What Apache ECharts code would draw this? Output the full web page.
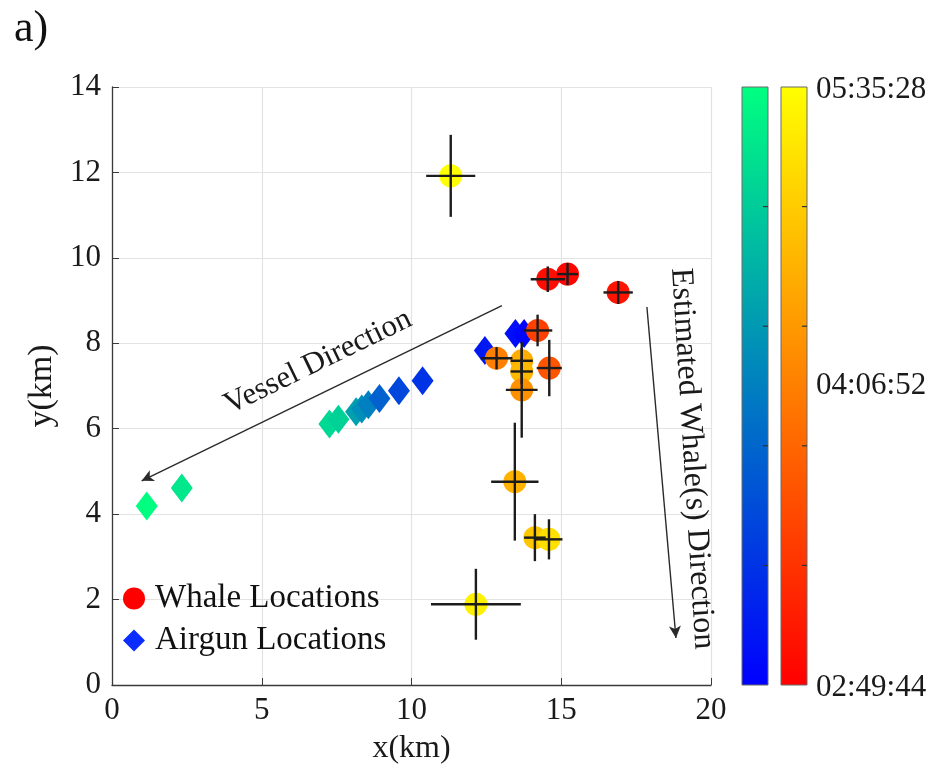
<!DOCTYPE html>
<html>
<head>
<meta charset="utf-8">
<title>Whale and airgun locations</title>
<script src="https://cdn.jsdelivr.net/npm/echarts@6/dist/echarts.min.js"></script>
<style>
  html, body { margin: 0; padding: 0; background: #ffffff; }
  #chart { width: 934px; height: 778px; }
</style>
</head>
<body>
<div id="chart"></div>
<script>
// ---- Whale localisations: position (km), error half-widths (km), detection time ----
const whaleX    = [14.55, 15.21, 16.90, 14.21, 12.84, 14.60, 13.68, 13.68, 13.68, 13.45, 14.12, 14.59, 12.15, 11.31];
const whaleY    = [ 9.50,  9.62,  9.19,  8.30,  7.65,  7.42,  7.59,  7.34,  6.91,  4.76,  3.45,  3.41,  1.89, 11.92];
const whaleXErr = [ 0.57,  0.35,  0.49,  0.49,  0.53,  0.42,  0.37,  0.37,  0.53,  0.79,  0.36,  0.45,  1.50,  0.82];
const whaleYErr = [ 0.30,  0.26,  0.27,  0.37,  0.26,  0.66,  0.30,  0.30,  1.12,  1.38,  0.55,  0.47,  0.83,  0.96];
const whaleTime = ['02:58:01', '02:53:03', '03:03:00', '03:31:10', '04:12:36', '03:44:26', '04:42:26',
                   '04:49:04', '04:24:12', '04:45:45', '04:59:00', '05:15:35', '05:27:11', '05:35:28'];

// ---- Airgun shot positions (km) and shot time ----
const airgunX    = [1.16, 2.33, 7.26, 7.56, 8.15, 8.34, 8.56, 8.93, 9.58, 10.37, 12.45, 13.47, 13.76];
const airgunY    = [4.19, 4.61, 6.11, 6.22, 6.40, 6.46, 6.56, 6.71, 6.89,  7.12,  7.83,  8.23,  8.23];
const airgunTime = ['05:35:28', '05:20:40', '05:10:36', '05:05:38', '04:34:00', '04:22:30', '04:12:36',
                    '03:52:40', '03:36:00', '03:22:50', '03:06:18', '02:58:01', '02:53:03'];

// ---- Colour scale ----
const timeRange      = ['02:49:44', '05:35:28'];
const colorbarLabels = ['05:35:28', '04:06:52', '02:49:44'];
const whaleColormap  = ['#ff0000', '#ffff00'];   // autumn
const airgunColormap = ['#0000ff', '#00ff80'];   // winter

// ---- Direction annotations (data units) ----
const vesselArrow = [[13.02, 8.88], [0.99, 4.78]];
const whaleArrow  = [[17.86, 8.85], [18.83, 1.10]];
const vesselLabel = { text: 'Vessel Direction', at: [6.88, 7.56], angle: 25.9 };
const whaleLabel  = { text: 'Estimated Whale(s) Direction', at: [19.37, 5.30], angle: -86.5 };

const FONT = '"Liberation Serif", "Times New Roman", serif';

function toSeconds(s) {
  const p = s.split(':').map(Number);
  return p[0] * 3600 + p[1] * 60 + p[2];
}

const tMin = toSeconds(timeRange[0]);
const tMax = toSeconds(timeRange[1]);

const whaleData  = whaleX.map((x, i) => [x, whaleY[i], toSeconds(whaleTime[i])]);
const errorData  = whaleX.map((x, i) => [x, whaleY[i], whaleXErr[i], whaleYErr[i]]);
const airgunData = airgunX.map((x, i) => [x, airgunY[i], toSeconds(airgunTime[i])]);

const chart = echarts.init(document.getElementById('chart'), null, { renderer: 'canvas' });

const grid = { left: 112, top: 87, width: 599, height: 598 };

// colour bars at the right-hand side
const barTop = grid.top, barH = grid.height, barW = 26;
const bars = [
  { x: 742, colors: airgunColormap },
  { x: 781, colors: whaleColormap }
];
const colorbarGraphics = [];
bars.forEach(b => {
  colorbarGraphics.push({
    type: 'rect', silent: true, z: 10,
    shape: { x: b.x, y: barTop, width: barW, height: barH },
    style: {
      fill: new echarts.graphic.LinearGradient(0, 0, 0, 1, [
        { offset: 0, color: b.colors[1] },
        { offset: 1, color: b.colors[0] }
      ]),
      stroke: '#6a6a6a', lineWidth: 1
    }
  });
  for (let k = 1; k < 5; k++) {
    const ty = barTop + barH * k / 5;
    colorbarGraphics.push({
      type: 'line', silent: true, z: 11,
      shape: { x1: b.x + barW - 5, y1: ty, x2: b.x + barW, y2: ty },
      style: { stroke: '#333', lineWidth: 1.2 }
    });
  }
});
colorbarLabels.forEach((lab, i) => {
  colorbarGraphics.push({
    type: 'text', silent: true, z: 11,
    x: 816, y: barTop + barH * i / 2 + (i === 1 ? 0 : 3),
    style: { text: lab, font: '31px ' + FONT, fill: '#1a1a1a', align: 'left', verticalAlign: 'middle' }
  });
});

const option = {
  animation: false,
  backgroundColor: '#ffffff',
  title: {
    text: 'a)', left: 9, top: 2,
    textStyle: { fontFamily: FONT, fontSize: 44, fontWeight: 'normal', color: '#111' }
  },
  grid: grid,
  legend: {
    orient: 'vertical', left: 118, top: 577, itemGap: 9,
    itemWidth: 22, itemHeight: 22,
    textStyle: { fontFamily: FONT, fontSize: 33, color: '#111', padding: [0, 0, 0, 5] },
    data: [
      { name: 'Whale Locations', icon: 'circle', itemStyle: { color: '#ff0000' } },
      { name: 'Airgun Locations', icon: 'diamond', itemStyle: { color: '#0a2cff' } }
    ]
  },
  visualMap: [
    { type: 'continuous', show: false, seriesIndex: 0, dimension: 2, min: tMin, max: tMax,
      inRange: { color: airgunColormap } },
    { type: 'continuous', show: false, seriesIndex: 1, dimension: 2, min: tMin, max: tMax,
      inRange: { color: whaleColormap } }
  ],
  xAxis: {
    type: 'value', min: 0, max: 20, interval: 5,
    name: 'x(km)', nameLocation: 'middle', nameGap: 48,
    nameTextStyle: { fontFamily: FONT, fontSize: 32, color: '#1a1a1a' },
    axisLine: { show: true, onZero: false, lineStyle: { color: '#3a3a3a', width: 1.3 } },
    axisTick: { show: true, inside: true, length: 7, lineStyle: { color: '#3a3a3a' } },
    axisLabel: { fontFamily: FONT, fontSize: 31, color: '#1a1a1a', margin: 10 },
    splitLine: { show: true, lineStyle: { color: '#e3e3e3', width: 1.2 } }
  },
  yAxis: {
    type: 'value', min: 0, max: 14, interval: 2,
    name: 'y(km)', nameLocation: 'middle', nameGap: 43, nameRotate: 90,
    nameTextStyle: { fontFamily: FONT, fontSize: 34, color: '#1a1a1a' },
    axisLine: { show: true, onZero: false, lineStyle: { color: '#3a3a3a', width: 1.3 } },
    axisTick: { show: true, inside: true, length: 7, lineStyle: { color: '#3a3a3a' } },
    axisLabel: { fontFamily: FONT, fontSize: 31, color: '#1a1a1a', margin: 11 },
    splitLine: { show: true, lineStyle: { color: '#e3e3e3', width: 1.2 } }
  },
  series: [
    {
      name: 'Airgun Locations', type: 'scatter', symbol: 'diamond', symbolSize: [22, 29],
      data: airgunData, encode: { x: 0, y: 1 }, z: 3,
      itemStyle: { opacity: 1, color: '#0a2cff' }
    },
    {
      name: 'Whale Locations', type: 'scatter', symbol: 'circle', symbolSize: 23,
      data: whaleData, encode: { x: 0, y: 1 }, z: 4,
      itemStyle: { opacity: 1, color: '#ff0000' }
    },
    {
      name: 'errors', type: 'custom', z: 5, silent: true,
      data: errorData, encode: { x: 0, y: 1 },
      renderItem: function (params, api) {
        const x = api.value(0), y = api.value(1), ex = api.value(2), ey = api.value(3);
        const l = api.coord([x - ex, y]), r = api.coord([x + ex, y]);
        const t = api.coord([x, y + ey]), b = api.coord([x, y - ey]);
        const st = { stroke: '#1c1c1c', lineWidth: 2.4 };
        return {
          type: 'group',
          children: [
            { type: 'line', shape: { x1: l[0], y1: l[1], x2: r[0], y2: r[1] }, style: st },
            { type: 'line', shape: { x1: t[0], y1: t[1], x2: b[0], y2: b[1] }, style: st }
          ]
        };
      }
    },
    {
      name: 'directions', type: 'line', data: [], silent: true, z: 6,
      markLine: {
        silent: true, animation: false,
        symbol: ['none', 'arrow'], symbolSize: [9, 12],
        label: { show: false },
        lineStyle: { color: '#2a2a2a', width: 1.4, type: 'solid' },
        emphasis: { disabled: true },
        data: [
          [{ coord: vesselArrow[0] }, { coord: vesselArrow[1] }],
          [{ coord: whaleArrow[0] }, { coord: whaleArrow[1] }]
        ]
      }
    }
  ],
  graphic: colorbarGraphics
};

chart.setOption(option);

// direction captions placed from data coordinates
function caption(c, size) {
  const p = chart.convertToPixel({ gridIndex: 0 }, c.at);
  return {
    type: 'text', silent: true, z: 12,
    x: p[0], y: p[1], rotation: c.angle * Math.PI / 180,
    style: { text: c.text, font: size + 'px ' + FONT, fill: '#1a1a1a', align: 'center', verticalAlign: 'middle' }
  };
}
chart.setOption({ graphic: colorbarGraphics.concat([caption(vesselLabel, 31), caption(whaleLabel, 32)]) });
</script>
</body>
</html>
